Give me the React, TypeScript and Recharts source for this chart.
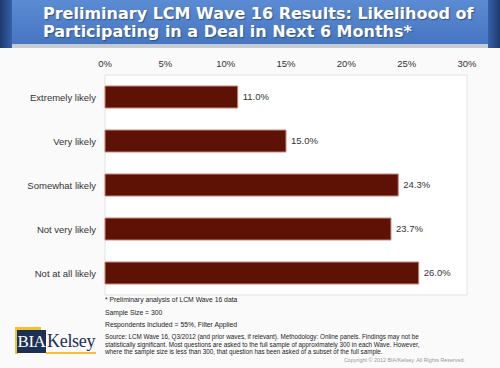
import { Bar, BarChart, LabelList, ReferenceArea, XAxis, YAxis } from "recharts";

const categories = [
  "Extremely likely",
  "Very likely",
  "Somewhat likely",
  "Not very likely",
  "Not at all likely",
];
const shares = [11.0, 15.0, 24.3, 23.7, 26.0];
const xTicks = [0, 5, 10, 15, 20, 25, 30];

const notes = [
  "* Preliminary analysis of LCM Wave 16 data",
  "Sample Size = 300",
  "Respondents Included = 55%, Filter Applied",
];
const sourceLines = [
  "Source: LCM Wave 16, Q3/2012 (and prior waves, if relevant). Methodology: Online panels. Findings may not be",
  "statistically significant. Most questions are asked to the full sample of approximately 300 in each Wave. However,",
  "where the sample size is less than 300, that question has been asked of a subset of the full sample.",
];

const rows = categories.map((name, i) => ({ name, value: shares[i] }));

const font = "'Liberation Sans', Arial, sans-serif";

function CategoryTick(props: any) {
  const { x, y, payload } = props;
  return (
    <text
      x={x - 1}
      y={y}
      dy={3.5}
      textAnchor="end"
      fill="#333"
      fontSize={9.5}
      fontFamily={font}
    >
      {payload.value}
    </text>
  );
}

export default function App() {
  return (
    <div
      style={{
        position: "absolute",
        left: 0,
        top: 0,
        width: 500,
        height: 368,
        background: "#fafafa",
        overflow: "hidden",
        fontFamily: font,
      }}
    >
      {/* title banner */}
      <div
        style={{
          position: "absolute",
          left: 0,
          top: 0,
          width: 500,
          height: 48,
          background: "linear-gradient(#8c9ab0, #c9cdd4)",
        }}
      />
      <div
        style={{
          position: "absolute",
          left: 0,
          top: 0,
          width: 500,
          height: 44,
          background: "linear-gradient(#5b8bd2, #4676c2)",
        }}
      />
      <div
        style={{
          position: "absolute",
          left: 0,
          top: 0,
          width: 12,
          height: 48,
          background: "linear-gradient(90deg, #1c3a70, #3561a8)",
        }}
      />
      <div
        style={{
          position: "absolute",
          left: 488,
          top: 0,
          width: 12,
          height: 48,
          background: "linear-gradient(90deg, #3561a8, #1c3a70)",
        }}
      />
      <div
        style={{
          position: "absolute",
          left: 43,
          top: 5,
          color: "#fff",
          fontFamily: "'DejaVu Sans', sans-serif",
          fontWeight: "bold",
          fontSize: 16,
          lineHeight: "18px",
          whiteSpace: "nowrap",
          textShadow: "1px 1px 1px rgba(0,0,0,0.35)",
        }}
      >
        Preliminary LCM Wave 16 Results: Likelihood of
        <br />
        Participating in a Deal in Next 6 Months*
      </div>

      <div style={{ position: "absolute", left: 0, top: 0 }}>
        <BarChart
          width={500}
          height={300}
          data={rows}
          layout="vertical"
          margin={{ top: 50, right: 33, bottom: 5, left: 0 }}
        >
          <ReferenceArea
            x1={0}
            x2={30}
            fill="#ffffff"
            fillOpacity={1}
            stroke="#e2e2e2"
            strokeWidth={1}
          />
          <XAxis
            type="number"
            orientation="top"
            domain={[0, 30]}
            ticks={xTicks}
            height={25}
            axisLine={false}
            tickLine={false}
            tick={{ fill: "#333", fontSize: 9.5, fontFamily: font }}
            tickFormatter={(v: number) => `${v}%`}
          />
          <YAxis
            type="category"
            dataKey="name"
            width={105}
            axisLine={false}
            tickLine={false}
            tick={CategoryTick}
          />
          <Bar
            dataKey="value"
            fill="#5e1206"
            stroke="#c9877c"
            strokeWidth={1}
            barSize={22}
            isAnimationActive={false}
          >
            <LabelList
              dataKey="value"
              position="right"
              offset={5}
              fill="#333"
              fontSize={9.5}
              fontFamily={font}
              formatter={(v: number) => `${v.toFixed(1)}%`}
            />
          </Bar>
        </BarChart>
      </div>

      {/* footnotes */}
      <div
        style={{
          position: "absolute",
          left: 105,
          top: 294,
          fontSize: 6.8,
          lineHeight: "12.5px",
          color: "#222",
          whiteSpace: "nowrap",
        }}
      >
        {notes.map((n) => (
          <div key={n}>{n}</div>
        ))}
      </div>
      <div
        style={{
          position: "absolute",
          left: 105,
          top: 333,
          fontSize: 6.3,
          lineHeight: "7.7px",
          color: "#222",
          whiteSpace: "nowrap",
        }}
      >
        {sourceLines.map((n) => (
          <div key={n}>{n}</div>
        ))}
      </div>
      <div
        style={{
          position: "absolute",
          right: 35,
          top: 357,
          fontSize: 5.4,
          color: "#999",
          whiteSpace: "nowrap",
        }}
      >
        Copyright © 2012 BIA/Kelsey. All Rights Reserved.
      </div>

      {/* logo */}
      <div style={{ position: "absolute", left: 15, top: 327, width: 3, height: 27, background: "#f2c12e" }} />
      <div style={{ position: "absolute", left: 15, top: 327, width: 26, height: 3, background: "#f2c12e" }} />
      <div
        style={{
          position: "absolute",
          left: 17,
          top: 330,
          width: 29,
          height: 23,
          background: "#1c2f55",
          color: "#fff",
          fontFamily: "'Liberation Serif', serif",
          fontSize: 17,
          lineHeight: "23px",
          textAlign: "center",
          letterSpacing: -0.5,
        }}
      >
        BIA
      </div>
      <div style={{ position: "absolute", left: 46, top: 352, width: 50, height: 2, background: "#f2c12e" }} />
      <div
        style={{
          position: "absolute",
          left: 47,
          top: 330,
          color: "#1c2f55",
          fontFamily: "'Liberation Serif', serif",
          fontSize: 18,
          lineHeight: "22px",
          letterSpacing: -0.3,
        }}
      >
        Kelsey
      </div>
    </div>
  );
}
